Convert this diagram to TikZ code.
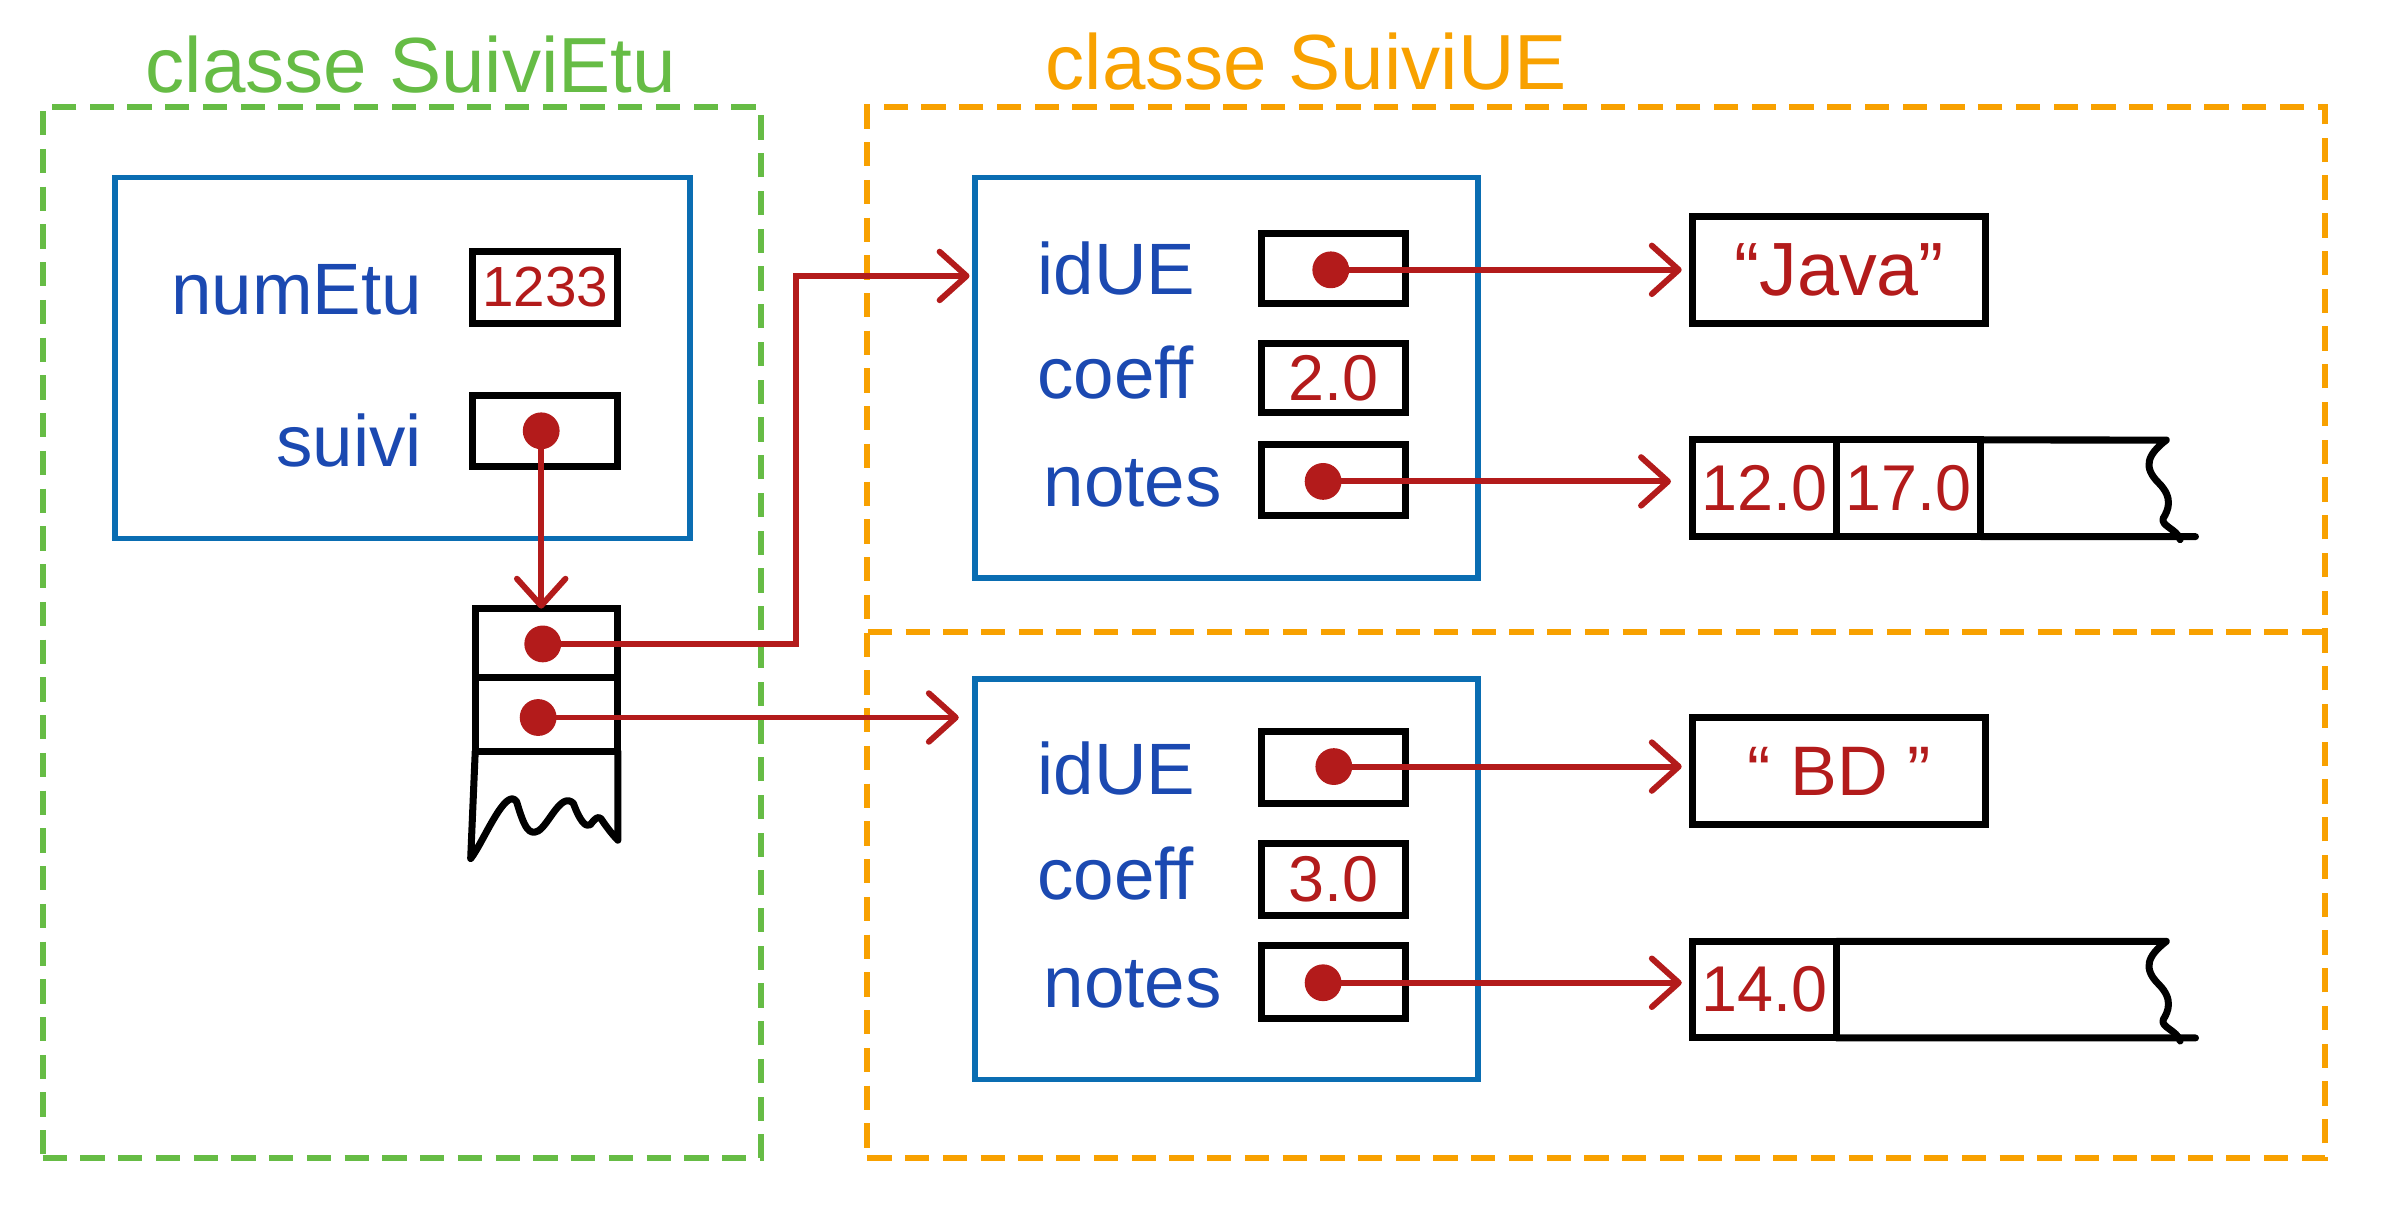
\documentclass[tikz,border=0pt]{standalone}
\usepackage{fontspec}
\setmainfont{Liberation Sans}
\usetikzlibrary{arrows.meta}
\definecolor{ured}{HTML}{B31B1B}
\definecolor{ublue}{HTML}{0A6DB2}
\definecolor{utext}{HTML}{1B49B1}
\definecolor{ugreen}{HTML}{66BC45}
\definecolor{uorange}{HTML}{F8A100}
\begin{document}
\begin{tikzpicture}[x=0.01cm,y=-0.01cm,
 dframe/.style={draw, line width=1.1pt, dash pattern=on 4.5pt off 2.5pt, inner sep=0, outer sep=0},
 gframe/.style={dframe, draw=ugreen},
 oframe/.style={dframe, draw=uorange},
 divline/.style={draw=uorange, line width=1.1pt, dash pattern=on 4.5pt off 2.5pt},
 obj/.style={draw=ublue, line width=1pt, inner sep=0, outer sep=0},
 cell/.style={draw=black, line width=1.3pt, inner sep=0, outer sep=0, text=ured},
 lbl/.style={text=utext, font=\fontsize{13.5}{16}\selectfont, inner sep=0},
 val/.style={font=\fontsize{12}{14}\selectfont},
 ttl/.style={font=\fontsize{14.5}{17}\selectfont, inner sep=0},
 dot/.style={circle, fill=ured, inner sep=0, minimum size=0.24cm},
 ptr/.style={draw=ured, line width=1.1pt, -{Straight Barb[length=5pt,width=9pt,round]}},
 tail/.style={draw=black, line width=1.3pt, line cap=round, line join=round}
]
\useasboundingbox (0,0) rectangle (1568,788);

% frames
\node[gframe, minimum width=4.68cm, minimum height=6.85cm] (etu) at (262,412.5) {};
\node[oframe, minimum width=9.50cm, minimum height=6.85cm] (ue) at (1041,412.5) {};
\coordinate (divl) at (566,412);
\coordinate (divr) at (1516,412);
\draw[divline] (divl) -- (divr);

% titles
\node[ttl, text=ugreen] (tetu) at (268,42) {classe SuiviEtu};
\node[ttl, text=uorange] (tue) at (852,40) {classe SuiviUE};

% SuiviEtu object
\node[obj, minimum width=3.75cm, minimum height=2.35cm] (oetu) at (262.5,233.5) {};
\node[lbl, anchor=east] (lnum) at (276,189) {numEtu};
\node[lbl, anchor=east] (lsuivi) at (276,287) {suivi};
\node[cell, minimum width=0.95cm, minimum height=0.47cm, font=\fontsize{10.5}{12}\selectfont] (vnum) at (355.5,187.5) {1233};
\node[cell, minimum width=0.95cm, minimum height=0.46cm] (vsuivi) at (355.5,281) {};
\node[dot] (d0) at (353,281) {};

% list
\node[cell, minimum width=0.93cm, minimum height=0.45cm] (l1) at (356.5,419.5) {};
\node[cell, minimum width=0.93cm, minimum height=0.48cm] (l2) at (356.5,466) {};
\draw[tail] (l2.south west) -- (307,560)
  .. controls (315,550) and (330,512) .. (337,523)
  .. controls (342,540) and (345,545) .. (351,542)
  .. controls (358,538) and (366,516) .. (374,524)
  .. controls (378,535) and (382,540) .. (385,538)
  .. controls (388,534) and (390,532) .. (392,534)
  .. controls (396,540) and (400,545) .. (403,548)
  -- (l2.south east);
\node[dot] (d1) at (354,420) {};
\node[dot] (d2) at (351,468) {};

% SuiviUE object 1
\node[obj, minimum width=3.28cm, minimum height=2.61cm] (ue1) at (800,246.5) {};
\node[lbl, anchor=west] (lid1) at (676,175) {idUE};
\node[lbl, anchor=west] (lco1) at (676,243) {coeff};
\node[lbl, anchor=west] (lno1) at (680,315) {notes};
\node[cell, minimum width=0.94cm, minimum height=0.46cm] (vid1) at (870,175) {};
\node[cell, val, minimum width=0.94cm, minimum height=0.45cm] (vco1) at (870,246.5) {2.0};
\node[cell, minimum width=0.94cm, minimum height=0.46cm] (vno1) at (870,313) {};
\node[dot] (e1) at (868,176) {};
\node[dot] (f1) at (863,314) {};
\node[cell, minimum width=1.91cm, minimum height=0.70cm, font=\fontsize{14}{16}\selectfont] (java) at (1199.5,176) {“Java”};
\node[cell, val, minimum width=0.94cm, minimum height=0.63cm] (a11) at (1151,318.5) {12.0};
\node[cell, val, minimum width=0.94cm, minimum height=0.63cm] (a12) at (1245,318.5) {17.0};
\draw[tail] (a12.north east) -- (1413,287)
  .. controls (1400,297) and (1398,305) .. (1408,315)
  .. controls (1418,325) and (1414,333) .. (1411,338)
  .. controls (1409,343) and (1420,345) .. (1422,352);
\draw[tail] (a12.south east) -- (1432,350);

% SuiviUE object 2
\node[obj, minimum width=3.28cm, minimum height=2.61cm] (ue2) at (800,573.5) {};
\node[lbl, anchor=west] (lid2) at (676,501) {idUE};
\node[lbl, anchor=west] (lco2) at (676,570) {coeff};
\node[lbl, anchor=west] (lno2) at (680,642) {notes};
\node[cell, minimum width=0.94cm, minimum height=0.47cm] (vid2) at (870,500.5) {};
\node[cell, val, minimum width=0.94cm, minimum height=0.47cm] (vco2) at (870,573.5) {3.0};
\node[cell, minimum width=0.94cm, minimum height=0.47cm] (vno2) at (870,640.5) {};
\node[dot] (e2) at (870,500) {};
\node[dot] (f2) at (863,641) {};
\node[cell, minimum width=1.91cm, minimum height=0.70cm, font=\fontsize{13}{15}\selectfont] (bd) at (1199.5,503) {“ BD ”};
\node[cell, val, minimum width=0.94cm, minimum height=0.63cm] (a21) at (1151,645.5) {14.0};
\draw[tail] (a21.north east) -- (1413,614)
  .. controls (1400,624) and (1398,632) .. (1408,642)
  .. controls (1418,652) and (1414,660) .. (1411,665)
  .. controls (1409,670) and (1420,672) .. (1422,679);
\draw[tail] (a21.south east) -- (1432,677);

% pointers
\coordinate (j1) at (519,180);
\draw[ptr] (d0.center) -- (d0.center |- l1.north);
\draw[ptr, shorten >=1pt] (d1.center) -| (j1) -- (j1 -| ue1.west);
\draw[ptr, shorten >=3pt] (d2.center) -- (d2.center -| ue2.west);
\draw[ptr, shorten >=2pt] (e1.center) -- (e1.center -| java.west);
\draw[ptr, shorten >=4pt] (f1.center) -- (f1.center -| a11.west);
\draw[ptr, shorten >=2pt] (e2.center) -- (e2.center -| bd.west);
\draw[ptr, shorten >=2pt] (f2.center) -- (f2.center -| a21.west);
\end{tikzpicture}
\end{document}
